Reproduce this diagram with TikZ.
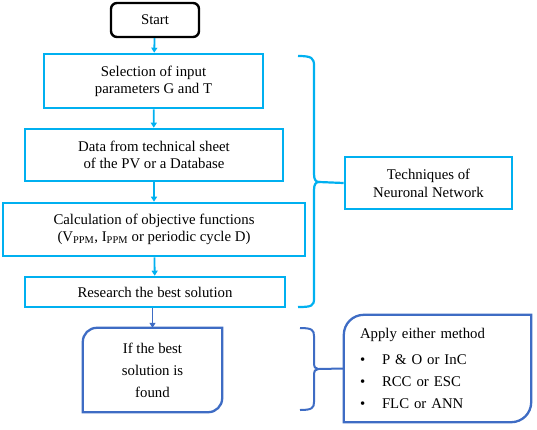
\documentclass[tikz,border=0pt]{standalone}
\usepackage{fontspec}
\setmainfont{Liberation Serif}
\usetikzlibrary{arrows.meta}
\definecolor{cyanb}{RGB}{0,176,240}
\definecolor{darkb}{RGB}{62,108,196}
\begin{document}
\begin{tikzpicture}[x=1pt,y=-1pt,
  every node/.style={font=\fontsize{14.8}{17}\selectfont, align=center, inner sep=0pt},
  cbox/.style={draw=cyanb, line width=2.6pt, minimum width=#1},
  cline/.style={draw=cyanb, line width=2.6pt},
  dline/.style={draw=darkb, line width=2.3pt},
  carrow/.style={draw=cyanb, line width=1.8pt, -{Triangle[length=5pt,width=6pt]}},
  darrow/.style={draw=darkb, line width=1.8pt, -{Triangle[length=5pt,width=6pt]}}]
\useasboundingbox (0,0) rectangle (537,429);
% start
\node[draw=black, line width=2.4pt, rounded corners=6pt, minimum width=88pt, minimum height=34pt] (start) at (155,20) {Start};
\node[cbox=219pt, minimum height=54pt] (sel) at (153.5,81) {Selection of input\\parameters G and T};
\node[cbox=258pt, minimum height=52pt] (data) at (154,155) {Data from technical sheet\\of the PV or a Database};
\node[cbox=302pt, minimum height=53pt] (calc) at (154,229.5) {Calculation of objective functions\\(V\textsubscript{PPM}, I\textsubscript{PPM} or periodic cycle D)};
\node[cbox=260pt, minimum height=30pt] (res) at (155,292) {Research the best solution};
\node[minimum width=139pt, minimum height=84pt, font=\fontsize{14.8}{22}\selectfont] (if) at (152.5,370) {If the best\\solution is\\found};
\draw[dline] ([xshift=14pt]if.north west) -- (if.north east) -- ([yshift=14pt]if.south east) arc[start angle=0,end angle=-90,radius=14pt] -- (if.south west) -- ([yshift=-14pt]if.north west) arc[start angle=180,end angle=90,radius=14pt];
\node[cbox=167pt, minimum height=52pt, font=\fontsize{14.8}{18}\selectfont] (tech) at (428.5,183) {Techniques of\\Neuronal Network};
\node[minimum width=187pt, minimum height=107pt, text width=155pt, inner xsep=16pt, align=left, font=\fontsize{14.8}{22}\selectfont] (apply) at (437.5,368.5) {\raisebox{2pt}{Apply either method}\\[2pt]
\makebox[22pt][l]{\textbullet}P \& O or InC\\
\makebox[22pt][l]{\textbullet}RCC or ESC\\
\makebox[22pt][l]{\textbullet}FLC or ANN};
\draw[dline] ([xshift=20pt]apply.north west) -- (apply.north east) -- ([yshift=20pt]apply.south east) arc[start angle=0,end angle=-90,radius=20pt] -- (apply.south west) -- ([yshift=-20pt]apply.north west) arc[start angle=180,end angle=90,radius=20pt];
% arrows
\draw[carrow] (start) -- (sel);
\draw[carrow] (sel) -- (data);
\draw[carrow] (data) -- (calc);
\draw[carrow] (calc) -- (res);
\draw[darrow] (res.south -| if.north) -- (if.north);
% braces
\coordinate (t1) at (319,182);
\draw[cline, line width=2.2pt] (298,56) .. controls (312,56) and (314,58) .. (314,66) -- (314,174) .. controls (314,180) and (316,182) .. (t1) .. controls (316,182) and (314,184) .. (314,190) -- (314,298) .. controls (314,306) and (312,307) .. (298,307);
\draw[cline, line width=2.2pt] (t1) -- (tech.west);
\coordinate (t2) at (318,369);
\draw[dline, line width=2pt] (300,328) .. controls (312,328) and (314,330) .. (314,336) -- (314,362) .. controls (314,367) and (315,369) .. (t2) .. controls (315,369) and (314,371) .. (314,376) -- (314,402) .. controls (314,408) and (312,410) .. (300,410);
\draw[dline, line width=2pt] (t2) -- (apply.west);
\end{tikzpicture}
\end{document}
